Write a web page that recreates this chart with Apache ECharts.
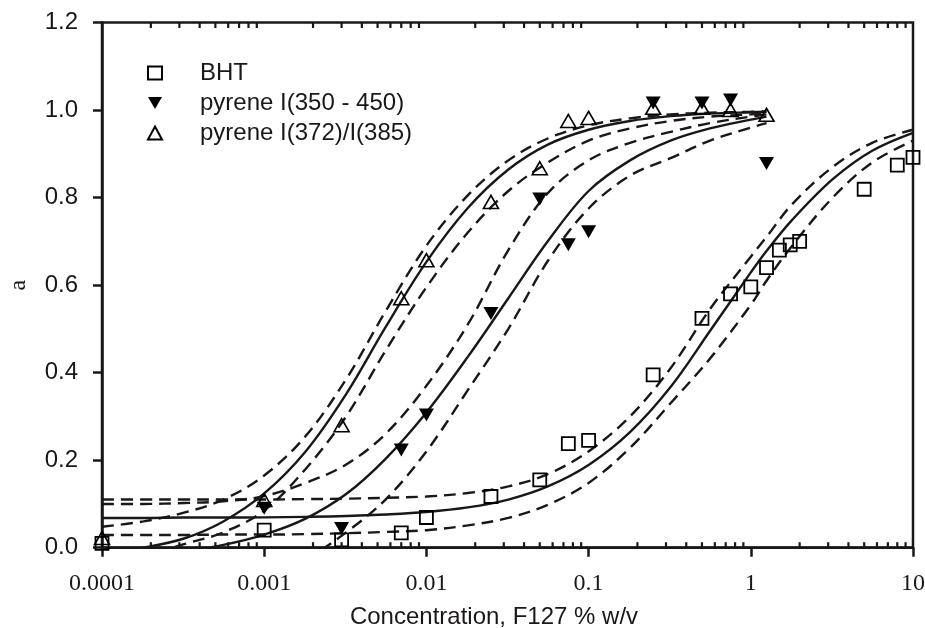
<!DOCTYPE html>
<html><head><meta charset="utf-8">
<script src="https://cdn.jsdelivr.net/npm/echarts@6/dist/echarts.min.js"></script>
<style>html,body{margin:0;padding:0;background:#fff}#c{width:925px;height:628px}</style>
</head><body><div id="c"></div>
<script>
// ---- data ----
const xTickLabels = ['0.0001', '0.001', '0.01', '0.1', '1', '10'];
const minorMultipliers = [2, 3, 4, 5, 6, 7, 8, 9];
const decades = [0.0001, 0.001, 0.01, 0.1, 1];

// BHT (open squares)
const bhtX = [0.0001, 0.001, 0.003, 0.007, 0.01, 0.025, 0.05, 0.075, 0.1, 0.25, 0.5, 0.75, 1.0, 1.25, 1.5, 1.75, 2.0, 5.0, 8.0, 10.0];
const bhtY = [0.01, 0.04, 0.018, 0.034, 0.069, 0.117, 0.155, 0.238, 0.245, 0.395, 0.524, 0.58, 0.596, 0.64, 0.68, 0.692, 0.70, 0.819, 0.874, 0.892];

// pyrene I(350 - 450) (filled down triangles)
const pyrAX = [0.001, 0.003, 0.007, 0.01, 0.025, 0.05, 0.075, 0.1, 0.25, 0.5, 0.75, 1.25];
const pyrAY = [0.09, 0.044, 0.223, 0.303, 0.535, 0.797, 0.692, 0.722, 1.016, 1.016, 1.023, 0.878];

// pyrene I(372)/I(385) (open up triangles)
const pyrBX = [0.0001, 0.001, 0.003, 0.007, 0.01, 0.025, 0.05, 0.075, 0.1, 0.25, 0.5, 0.75, 1.25];
const pyrBY = [0.022, 0.109, 0.28, 0.57, 0.657, 0.79, 0.867, 0.975, 0.982, 1.005, 1.005, 1.0, 0.989];

// fitted curves and confidence bands, read at these concentrations
const curveX = [0.0001, 0.00018, 0.00032, 0.00056, 0.001, 0.0018, 0.0032, 0.0056, 0.01, 0.018, 0.032, 0.056, 0.1, 0.18, 0.32, 0.56, 1, 1.25, 1.8, 3.2, 5.6, 10];

const pyrBFit   = [-0.014, 0.0, 0.021, 0.060, 0.124, 0.220, 0.351, 0.504, 0.653, 0.776, 0.864, 0.921, 0.955, 0.975, 0.986, 0.992, 0.995, 0.996, null, null, null, null];
const pyrBUpper = [0.048, 0.060, 0.080, 0.110, 0.165, 0.255, 0.385, 0.540, 0.690, 0.805, 0.885, 0.935, 0.965, 0.981, 0.990, 0.994, 0.996, 0.997, null, null, null, null];
const pyrBLower = [-0.05, -0.02, 0.008, 0.035, 0.085, 0.180, 0.300, 0.450, 0.595, 0.720, 0.815, 0.880, 0.930, 0.958, 0.975, 0.985, 0.990, 0.992, null, null, null, null];

const pyrAFit   = [-0.022, -0.017, -0.008, 0.0065, 0.030, 0.0665, 0.1225, 0.203, 0.309, 0.436, 0.570, 0.700, 0.815, 0.885, 0.930, 0.958, 0.978, 0.985, null, null, null, null];
const pyrAUpper = [0.100, 0.100, 0.102, 0.106, 0.118, 0.148, 0.190, 0.260, 0.370, 0.510, 0.680, 0.810, 0.885, 0.925, 0.950, 0.970, 0.985, 0.990, null, null, null, null];
const pyrALower = [null, null, null, null, null, -0.03, 0.035, 0.110, 0.220, 0.360, 0.500, 0.655, 0.775, 0.850, 0.890, 0.930, 0.960, 0.970, null, null, null, null];

const bhtFit   = [0.068, 0.068, 0.069, 0.069, 0.0694, 0.0705, 0.0724, 0.076, 0.0817, 0.092, 0.110, 0.140, 0.189, 0.264, 0.367, 0.495, 0.629, 0.678, 0.749, 0.842, 0.907, 0.948];
const bhtUpper = [0.110, 0.110, 0.110, 0.110, 0.110, 0.111, 0.112, 0.114, 0.117, 0.125, 0.140, 0.168, 0.220, 0.300, 0.410, 0.545, 0.665, 0.710, 0.785, 0.870, 0.925, 0.955];
const bhtLower = [0.029, 0.029, 0.029, 0.030, 0.030, 0.031, 0.033, 0.036, 0.040, 0.051, 0.068, 0.098, 0.148, 0.228, 0.330, 0.432, 0.555, 0.610, 0.690, 0.800, 0.880, 0.930];

// ---- build chart ----
const INK = '#1a1718';
const SANS = '"Liberation Sans", Arial, Helvetica, sans-serif';
const SERIF = '"Liberation Serif", "Times New Roman", serif';

const zip = (xs, ys) => xs.map((x, i) => [x, ys[i]]);
const minorTicks = [];
decades.forEach(d => minorMultipliers.forEach(m => minorTicks.push(+(d * m).toPrecision(3))));

function curve(name, ys, dashed) {
  return {
    type: 'line', name: name, data: zip(curveX, ys), smooth: 0.35, showSymbol: false,
    silent: true, z: 2, connectNulls: false,
    lineStyle: { color: INK, width: 2.4, type: dashed ? [12, 7] : 'solid' }
  };
}

const downTri = 'path://M0,0L14,0L7,12Z';

const chart = echarts.init(document.getElementById('c'), null, { renderer: 'canvas' });
chart.setOption({
  animation: false,
  backgroundColor: '#ffffff',
  grid: { left: 102, right: 12, top: 22.5, bottom: 80.3, show: true, borderColor: INK, borderWidth: 2.5, containLabel: false, outerBoundsMode: 'none' },
  legend: {
    orient: 'vertical', left: 142, top: 54, itemWidth: 14, itemHeight: 13, itemGap: 2,
    selectedMode: false,
    data: ['BHT', 'pyrene I(350 - 450)', 'pyrene I(372)/I(385)'],
    textStyle: { fontFamily: SANS, fontSize: 24, color: INK, lineHeight: 28, padding: [0, 0, 0, 33] }
  },
  xAxis: {
    type: 'log', logBase: 10, min: 0.0001, max: 10, splitNumber: 5,
    name: 'Concentration, F127 % w/v', nameLocation: 'middle', nameGap: 58,
    nameTextStyle: { fontFamily: SANS, fontSize: 24, color: INK, padding: [0, 27, 0, 0] },
    axisLine: { show: true, onZero: false, lineStyle: { color: INK, width: 2.5 } },
    axisTick: { show: true, inside: false, length: 9, lineStyle: { color: INK, width: 2.5 } },
    minorTick: { show: false },
    splitLine: { show: false },
    axisLabel: {
      margin: 24, fontFamily: SERIF, fontSize: 24, color: INK,
      formatter: v => xTickLabels[Math.round(Math.log10(v)) + 4]
    }
  },
  yAxis: {
    type: 'value', min: 0, max: 1.2, interval: 0.2,
    name: 'a', nameLocation: 'middle', nameGap: 71,
    nameTextStyle: { fontFamily: SERIF, fontSize: 24, color: INK },
    axisLine: { show: true, lineStyle: { color: INK, width: 2.5 } },
    axisTick: { show: true, inside: false, length: 9, lineStyle: { color: INK, width: 2.5 } },
    splitLine: { show: false },
    axisLabel: { margin: 24, fontFamily: SANS, fontSize: 24, color: INK, formatter: v => v.toFixed(1) }
  },
  series: [
    curve('bhtFit', bhtFit, false),
    curve('bhtUpper', bhtUpper, true),
    curve('bhtLower', bhtLower, true),
    curve('pyrAFit', pyrAFit, false),
    curve('pyrAUpper', pyrAUpper, true),
    curve('pyrALower', pyrALower, true),
    curve('pyrBFit', pyrBFit, false),
    curve('pyrBUpper', pyrBUpper, true),
    curve('pyrBLower', pyrBLower, true),
    {
      type: 'custom', name: 'minorTicks', silent: true, clip: false, z: 6,
      data: minorTicks.map(v => [v, 0]), encode: { x: 0, y: 1 },
      renderItem: function (params, api) {
        const b = api.coord([api.value(0), 0]);
        const t = api.coord([api.value(0), 1.2]);
        const st = { stroke: INK, lineWidth: 2.2 };
        return { type: 'group', children: [
          { type: 'line', shape: { x1: b[0], y1: b[1], x2: b[0], y2: b[1] - 5.5 }, style: st },
          { type: 'line', shape: { x1: t[0], y1: t[1], x2: t[0], y2: t[1] + 5.5 }, style: st }
        ] };
      }
    },
    {
      type: 'scatter', name: 'BHT', data: zip(bhtX, bhtY), symbol: 'rect', symbolSize: 13, z: 4,
      itemStyle: { color: 'rgba(255,255,255,0)', borderColor: '#000', borderWidth: 1.8, opacity: 1 }
    },
    {
      type: 'scatter', name: 'pyrene I(350 - 450)', data: zip(pyrAX, pyrAY), symbol: downTri, symbolSize: [15, 13], z: 4,
      itemStyle: { color: '#000', borderColor: '#000', borderWidth: 0, opacity: 1 }
    },
    {
      type: 'scatter', name: 'pyrene I(372)/I(385)', data: zip(pyrBX, pyrBY), symbol: 'triangle', symbolSize: [15, 13], z: 4,
      itemStyle: { color: 'rgba(255,255,255,0)', borderColor: '#000', borderWidth: 1.6, opacity: 1 }
    }
  ]
});
</script></body></html>
